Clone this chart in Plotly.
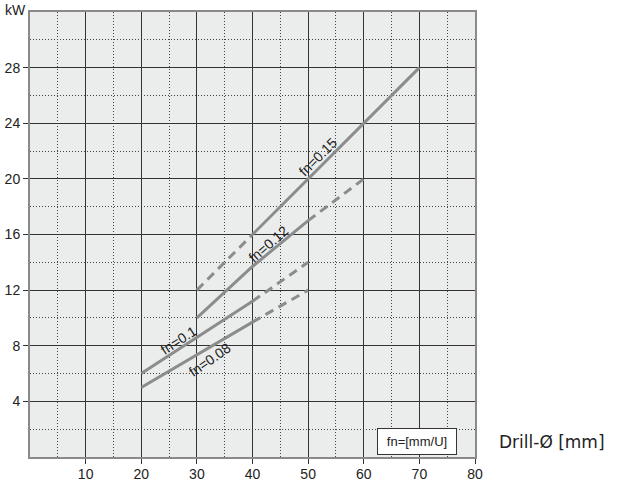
import plotly.graph_objects as go

# feed curves, drill diameter [mm] vs power [kW]
fn015_solid_x = [40, 70]
fn015_solid_y = [16, 28]
fn015_dash_x = [30, 40]
fn015_dash_y = [12, 16]

fn012_solid_x = [30, 40, 50]
fn012_solid_y = [10, 13.7, 17]
fn012_dash_x = [50, 60]
fn012_dash_y = [17, 20]

fn010_solid_x = [20, 40]
fn010_solid_y = [6, 11.2]
fn010_dash_x = [40, 50]
fn010_dash_y = [11.2, 14]

fn008_solid_x = [20, 40]
fn008_solid_y = [5, 9.7]
fn008_dash_x = [40, 50]
fn008_dash_y = [9.7, 12]

x_ticks = [10, 20, 30, 40, 50, 60, 70, 80]
y_ticks = [4, 8, 12, 16, 20, 24, 28]

# curve labels: text, x, y, angle
curve_labels = [
    ("fn=0.15", 51.7, 21.6, -45),
    ("fn=0.12", 42.9, 15.3, -41),
    ("fn=0.1", 26.8, 8.4, -33),
    ("fn=0.08", 32.2, 7.0, -35),
]

line_col = "#8c8c8c"
grid_col = "#333333"
font_main = "Liberation Sans"

fig = go.Figure()

for xs, ys, dash in [
    (fn015_solid_x, fn015_solid_y, "solid"),
    (fn015_dash_x, fn015_dash_y, "9px,6px"),
    (fn012_solid_x, fn012_solid_y, "solid"),
    (fn012_dash_x, fn012_dash_y, "9px,6px"),
    (fn010_solid_x, fn010_solid_y, "solid"),
    (fn010_dash_x, fn010_dash_y, "9px,6px"),
    (fn008_solid_x, fn008_solid_y, "solid"),
    (fn008_dash_x, fn008_dash_y, "9px,6px"),
]:
    fig.add_trace(go.Scatter(x=xs, y=ys, mode="lines",
                             line=dict(color=line_col, width=3, dash=dash),
                             showlegend=False, hoverinfo="skip"))

annotations = []
for txt, ax, ay, ang in curve_labels:
    annotations.append(dict(text=txt, x=ax, y=ay, textangle=ang, showarrow=False,
                            font=dict(family=font_main, size=14, color="#222")))

annotations.append(dict(text="kW", xref="paper", x=0, xanchor="right", xshift=-2,
                        y=32, yanchor="middle", yshift=2, showarrow=False,
                        font=dict(family=font_main, size=14, color="#222")))
annotations.append(dict(text="Drill-Ø [mm]", xref="paper", x=1, xanchor="left", xshift=22,
                        y=1.1, yanchor="middle", showarrow=False,
                        font=dict(family="DejaVu Sans", size=17, color="#222")))
annotations.append(dict(text="fn=[mm/U]", x=69.55, y=1.14, showarrow=False,
                        width=74, height=21, borderpad=2, bgcolor="white",
                        bordercolor="#333", borderwidth=1,
                        font=dict(family=font_main, size=13, color="#222")))

fig.update_layout(
    width=619, height=482,
    margin=dict(l=30, r=144, t=12, b=25),
    paper_bgcolor="white",
    plot_bgcolor="#ebecec",
    annotations=annotations,
    font=dict(family=font_main, size=14, color="#222"),
)

fig.update_xaxes(
    range=[0, 80], tickvals=x_ticks, ticks="outside", ticklen=5, tickcolor=grid_col,
    ticklabelstandoff=-2,
    showgrid=True, gridcolor=grid_col, gridwidth=1, zeroline=False, automargin=False,
    showline=True, mirror=True, linecolor="#8a8a8a", linewidth=2,
    minor=dict(dtick=5, tick0=0, showgrid=True, gridcolor="#444", griddash="1px,2px", gridwidth=1),
    tickfont=dict(family=font_main, size=14, color="#222"),
)
fig.update_yaxes(
    range=[0, 32], tickvals=y_ticks, ticks="outside", ticklen=5, tickcolor=grid_col,
    showgrid=True, gridcolor=grid_col, gridwidth=1, zeroline=False, automargin=False,
    showline=True, mirror=True, linecolor="#8a8a8a", linewidth=2,
    minor=dict(dtick=2, tick0=0, showgrid=True, gridcolor="#444", griddash="1px,2px", gridwidth=1),
    tickfont=dict(family=font_main, size=14, color="#222"),
)

# drop the default 8px page margin so the figure fills the window
fig.write_html("out.html", config={"displayModeBar": False},
               post_script="document.body.style.margin='0';")
